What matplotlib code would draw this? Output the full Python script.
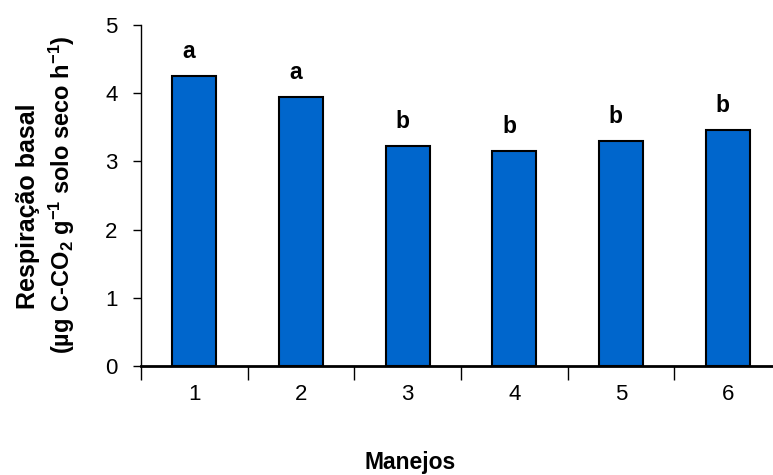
import matplotlib
matplotlib.use("Agg")
import matplotlib.pyplot as plt

plt.rcParams['font.family'] = ['Liberation Sans', 'DejaVu Sans']
plt.rcParams['mathtext.fontset'] = 'custom'
plt.rcParams['mathtext.rm'] = 'Liberation Sans:bold'
plt.rcParams['mathtext.default'] = 'rm'

# Dados
manejos = [1, 2, 3, 4, 5, 6]
respiracao = [4.25, 3.94, 3.22, 3.15, 3.30, 3.46]
letras = ['a', 'a', 'b', 'b', 'b', 'b']

fig = plt.figure(figsize=(7.73, 4.75), dpi=100)
ax = fig.add_axes([141 / 773, 109 / 475, 640 / 773, 341 / 475])

ax.bar(manejos, respiracao, width=0.41, color='#0066CC', edgecolor='black',
       linewidth=1.5, zorder=2)

for xi, yi, letra in zip(manejos, respiracao, letras):
    ax.text(xi - 0.05, yi + 0.19, letra, ha='center', va='bottom',
            fontsize=16.5, fontweight='bold')

ax.set_xlim(0.5, 6.5)
ax.set_ylim(0, 5)
ax.set_yticks([0, 1, 2, 3, 4, 5])
ax.set_xticks(manejos)
ax.set_xticks([0.5 + i for i in range(7)], minor=True)
ax.tick_params(axis='x', which='major', length=0, pad=13, labelsize=16)
ax.tick_params(axis='x', which='minor', length=10, width=1, direction='out')
ax.tick_params(axis='y', length=6, width=1, direction='out', labelsize=16, pad=11)

ax.spines['top'].set_visible(False)
ax.spines['right'].set_visible(False)
ax.spines['left'].set_linewidth(1)
ax.spines['bottom'].set_linewidth(2)
ax.spines['bottom'].set_zorder(3)

fig.text(28 / 773, 1 - 206 / 475, 'Respiração basal', rotation=90,
         ha='center', va='center', fontsize=18, fontweight='bold')
fig.text(62 / 773, 1 - 195 / 475,
         '(µg C-CO$_2$ g$^{-1}$ solo seco h$^{-1}$)', rotation=90,
         ha='center', va='center', fontsize=17, fontweight='bold')
fig.text(410 / 773, 1 - 462 / 475, 'Manejos', ha='center', va='center',
         fontsize=16.5, fontweight='bold')

fig.savefig('out.png', dpi=100)
